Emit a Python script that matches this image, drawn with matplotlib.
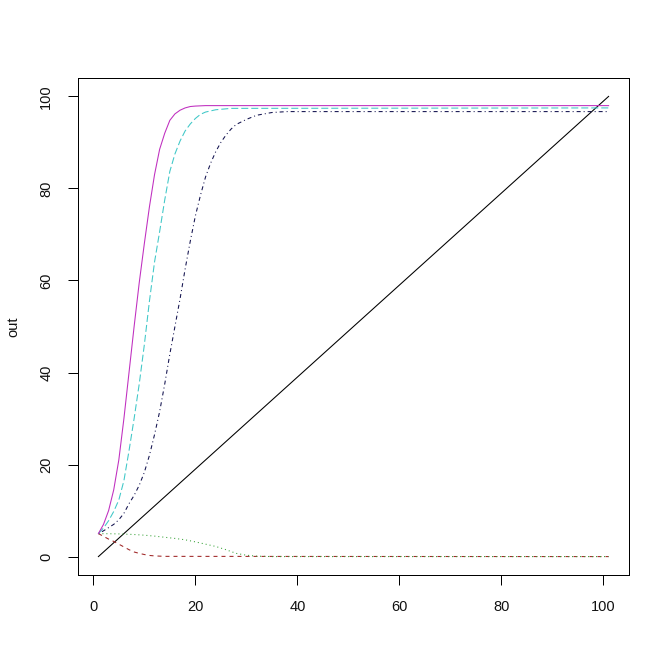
import matplotlib
matplotlib.use('Agg')
import matplotlib.pyplot as plt
import numpy as np

# column 1: time 0..100, plotted against row index 1..101
idx = np.arange(1, 102)
time_col = np.arange(0, 101)

# other columns (row index, value)
red_x = [1, 2, 3, 4, 5, 6, 7, 8, 9, 10, 11, 12, 14, 101]
red_y = [5.0, 4.4, 3.8, 3.3, 2.7, 2.1, 1.5, 1.0, 0.7, 0.45, 0.25, 0.15, 0.05, 0.0]

green_x = [1, 2, 3, 5, 8, 10, 12, 14, 16, 18, 20, 22, 24, 26, 28, 30, 32, 35, 101]
green_y = [5.0, 4.98, 4.97, 4.93, 4.8, 4.65, 4.45, 4.2, 3.95, 3.65, 3.2, 2.7, 2.2,
           1.5, 0.7, 0.3, 0.1, 0.0, 0.0]

navy_x = [1, 2, 3, 4, 5, 6, 7, 8, 9, 10, 11, 12, 13, 14, 15, 16, 17, 18, 19, 20,
          21, 22, 23, 24, 25, 26, 27, 28, 30, 32, 35, 38, 101]
navy_y = [5.0, 5.6, 6.3, 7.0, 8.0, 9.4, 11.5, 13.3, 15.5, 18.3, 22.0, 26.5, 31.5,
          37.5, 44.0, 50.0, 56.0, 62.5, 68.5, 74.0, 78.5, 82.5, 85.5, 88.0, 90.0,
          91.6, 92.9, 93.9, 95.0, 95.9, 96.5, 96.7, 96.7]

cyan_x = [1, 2, 3, 4, 5, 6, 7, 8, 9, 10, 11, 12, 13, 14, 15, 16, 17, 18, 19, 20,
          21, 22, 24, 27, 101]
cyan_y = [5.0, 6.2, 7.8, 9.8, 12.3, 16.5, 23.0, 30.0, 37.5, 46.0, 55.5, 64.0, 70.6,
          77.5, 83.7, 87.5, 90.3, 92.5, 94.0, 95.2, 96.1, 96.6, 97.1, 97.4, 97.5]

mag_x = [1, 2, 3, 4, 5, 6, 7, 8, 9, 10, 11, 12, 13, 14, 15, 16, 17, 18, 19, 20,
         22, 101]
mag_y = [5.0, 7.0, 10.0, 14.5, 21.0, 30.0, 40.0, 50.0, 59.5, 68.0, 76.0, 83.0, 88.5,
         92.0, 94.8, 96.2, 97.0, 97.5, 97.8, 97.9, 98.0, 98.0]

plt.rcParams['font.family'] = ['Liberation Sans', 'DejaVu Sans']
plt.rcParams['lines.scale_dashes'] = False

fig = plt.figure(figsize=(7, 7), dpi=96)
ax = fig.add_axes([78 / 672, 97 / 672, 551 / 672, 497 / 672])

lw = 0.8
ax.plot(idx, time_col, color='black', lw=lw, linestyle='-')
ax.plot(red_x, red_y, color='#A02828', lw=lw, dashes=(3, 3))
ax.plot(green_x, green_y, color='#33A033', lw=lw, dashes=(0.75, 2.25))
ax.plot(navy_x, navy_y, color='#141450', lw=lw, dashes=(0.75, 2.25, 3, 2.25))
ax.plot(cyan_x, cyan_y, color='#40C8C8', lw=lw, dashes=(5.25, 2.25))
ax.plot(mag_x, mag_y, color='#C030C0', lw=lw, linestyle='-')

ax.set_xlim(-3, 105)
ax.set_ylim(-4, 104)
ax.set_xticks([0, 20, 40, 60, 80, 100])
ax.set_yticks([0, 20, 40, 60, 80, 100])
ax.tick_params(axis='both', direction='out', length=7.5, width=0.75,
               labelsize=11, color='black', labelcolor='#111111', pad=11)
ax.tick_params(axis='y', labelrotation=90)
for lab in ax.get_yticklabels():
    lab.set_va('center')
for s in ax.spines.values():
    s.set_linewidth(0.75)

ax.set_ylabel('out', fontsize=11, labelpad=14, color='#111111')

fig.savefig('out.png', dpi=96)
